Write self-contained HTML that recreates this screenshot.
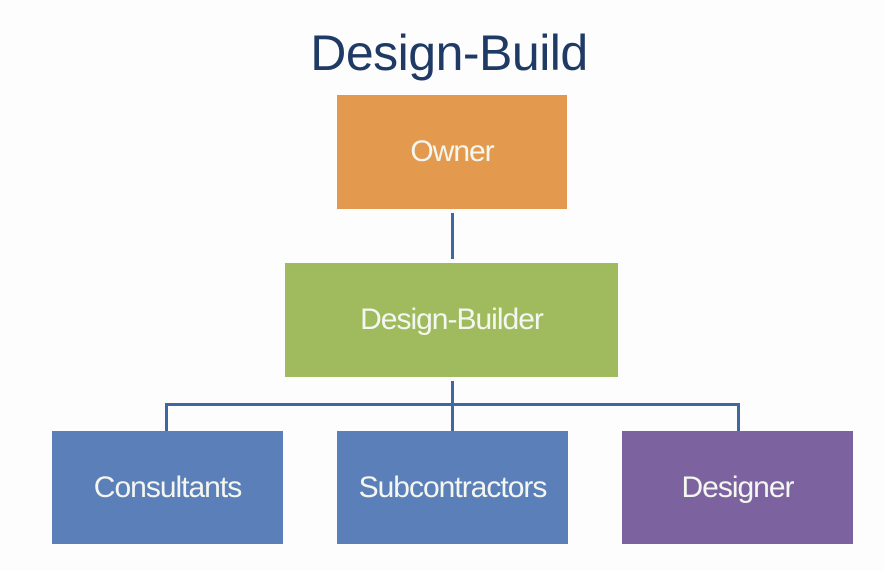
<!DOCTYPE html>
<html><head><style>
html,body{margin:0;padding:0;background:#fdfdfd;}
.c{position:relative;width:885px;height:571px;overflow:hidden;font-family:"Liberation Sans",sans-serif;}
.b{position:absolute;display:flex;align-items:center;justify-content:center;color:#f4f6f0;font-size:30px;letter-spacing:-1px;}
.l{position:absolute;background:#3f67a0;}
</style></head><body><div class="c">
<div style="position:absolute;left:0;top:24px;width:898px;text-align:center;font-size:50px;color:#1f3a64;letter-spacing:-0.5px;">Design-Build</div>
<div class="b" style="left:337px;top:95px;width:230px;height:114px;background:#e39a4e;">Owner</div>
<div class="b" style="left:285px;top:263px;width:333px;height:114px;background:#a0bb5e;">Design-Builder</div>
<div class="b" style="left:52px;top:431px;width:231px;height:113px;background:#5b7fb8;">Consultants</div>
<div class="b" style="left:337px;top:431px;width:231px;height:113px;background:#5b7fb8;">Subcontractors</div>
<div class="b" style="left:622px;top:431px;width:231px;height:113px;background:#7c63a0;">Designer</div>
<div class="l" style="left:451px;top:213px;width:3px;height:46px;"></div>
<div class="l" style="left:451px;top:381px;width:3px;height:50px;"></div>
<div class="l" style="left:165px;top:403px;width:575px;height:3px;"></div>
<div class="l" style="left:165px;top:403px;width:3px;height:28px;"></div>
<div class="l" style="left:737px;top:403px;width:3px;height:28px;"></div>
</div></body></html>
